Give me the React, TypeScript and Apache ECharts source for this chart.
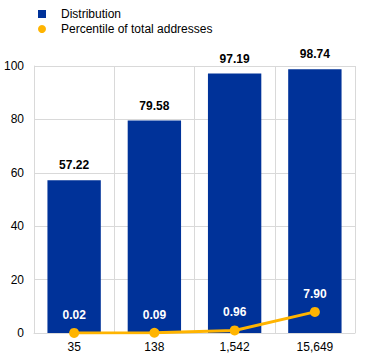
import React, { useEffect, useRef } from "react";
import * as echarts from "echarts";

const categories = ["35", "138", "1,542", "15,649"];
const distribution = [57.22, 79.58, 97.19, 98.74];
const percentile = [0.02, 0.09, 0.96, 7.9];

export default function App() {
  const ref = useRef<HTMLDivElement>(null);
  useEffect(() => {
    document.body.style.margin = "0";
    const chart = echarts.init(ref.current!, null, { renderer: "svg" });
    const font = "Arial, 'Liberation Sans', sans-serif";
    chart.setOption({
      animation: false,
      textStyle: { fontFamily: font },
      legend: {
        orient: "vertical",
        left: 33,
        top: 2,
        itemWidth: 8,
        itemHeight: 8,
        itemGap: 1,
        textStyle: {
          fontSize: 12,
          lineHeight: 14,
          color: "#000",
          fontFamily: font,
          padding: [0, 0, 0, 10],
        },
        data: [
          { name: "Distribution", icon: "rect" },
          { name: "Percentile of total addresses", icon: "circle" },
        ],
      },
      grid: { left: 34, right: 11, top: 66, bottom: 27 },
      xAxis: {
        type: "category",
        data: categories,
        boundaryGap: true,
        axisLine: { show: true, lineStyle: { color: "#d9d9d9", width: 1 } },
        axisTick: { show: false },
        splitLine: { show: true, lineStyle: { color: "#d9d9d9", width: 1 } },
        axisLabel: { color: "#000", fontSize: 12, fontFamily: font, margin: 8 },
      },
      yAxis: {
        type: "value",
        min: 0,
        max: 100,
        interval: 20,
        axisLine: { show: true, lineStyle: { color: "#d9d9d9" } },
        axisTick: { show: false },
        splitLine: { show: true, lineStyle: { color: "#d9d9d9", width: 1 } },
        axisLabel: { color: "#000", fontSize: 12, fontFamily: font, margin: 10 },
      },
      series: [
        {
          name: "Distribution",
          type: "bar",
          data: distribution,
          barWidth: "66.5%",
          itemStyle: { color: "#003299" },
          label: {
            show: true,
            position: "top",
            distance: 9,
            color: "#000",
            fontWeight: "bold",
            fontSize: 12,
            fontFamily: font,
            formatter: (p: any) => p.value.toFixed(2),
          },
          z: 1,
        },
        {
          name: "Percentile of total addresses",
          type: "line",
          data: percentile,
          symbol: "circle",
          symbolSize: 10,
          itemStyle: { color: "#FFB400" },
          lineStyle: { color: "#FFB400", width: 3 },
          label: {
            show: true,
            position: "top",
            distance: 7,
            color: "#fff",
            fontWeight: "bold",
            fontSize: 12,
            fontFamily: font,
            formatter: (p: any) => p.value.toFixed(2),
          },
          z: 3,
        },
      ],
    });
    return () => chart.dispose();
  }, []);
  return <div ref={ref} style={{ width: 366, height: 360 }} />;
}
